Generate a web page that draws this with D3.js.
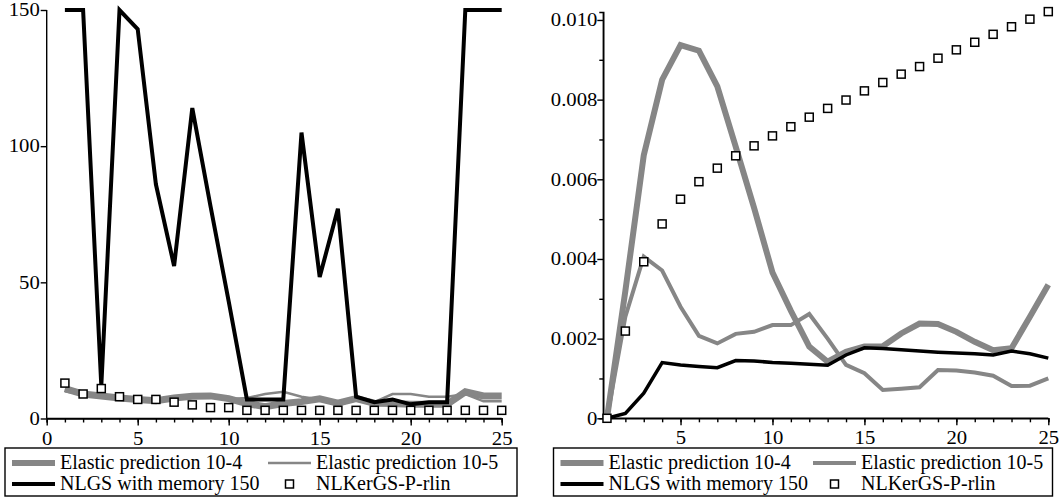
<!DOCTYPE html>
<html>
<head>
<meta charset="utf-8">
<script src="https://cdn.jsdelivr.net/npm/d3@7"></script>
<style>
  body { margin: 0; background: #fff; }
  text { font-family: "Liberation Serif", "Times New Roman", serif; fill: #000; }
  .axis path, .axis line { stroke: #000; stroke-width: 1.4px; }
</style>
</head>
<body>
<script>
// iterations
var iters = d3.range(1, 26);

// left panel values
var leftElastic4 = [11, 9, 8.3, 7.5, 7, 6.5, 7.5, 8.2, 8.3, 7.3, 5.5, 4.3, 5.5, 6.2, 7.2, 5.6, 7.3, 5.6, 5.5, 5.2, 5.2, 5.2, 9.8, 8.3, 8.3];
var leftElastic5 = [10, 8.7, 8, 7.5, 7, 6.5, 7.2, 8, 8, 7.2, 7.5, 9, 9.8, 8, 7, 6, 7, 6, 9, 9, 8, 8, 9, 6.3, 6.3];
var leftNLGS = [150, 150, 12, 150, 143, 86, 56, 114, 78, 43, 7, 7, 7, 105, 52, 77, 8, 6, 7, 5.2, 6, 6, 150, 150, 150];
var leftKer = [13, 9, 11, 8, 7, 7, 6, 5, 4, 4, 3, 3, 3, 3, 3, 3, 3, 3, 3, 3, 3, 3, 3, 3, 3];

// right panel values
var rightElastic4 = [0, 0.0032, 0.0066, 0.0085, 0.00937, 0.00923, 0.00833, 0.00682, 0.00528, 0.00366, 0.0027, 0.0018, 0.00142, 0.00167, 0.0018, 0.00181, 0.00213, 0.00238, 0.00237, 0.00217, 0.00192, 0.00171, 0.00176, 0.00255, 0.00335];
var rightElastic5 = [0, 0.00255, 0.00406, 0.00371, 0.0028, 0.00207, 0.00188, 0.00212, 0.00217, 0.00234, 0.00234, 0.00262, 0.002, 0.00134, 0.00113, 0.00071, 0.00074, 0.00078, 0.00121, 0.0012, 0.00115, 0.00107, 0.00081, 0.00082, 0.001];
var rightNLGS = [0, 0.00012, 0.00063, 0.0014, 0.00134, 0.0013, 0.00127, 0.00145, 0.00144, 0.0014, 0.00138, 0.00136, 0.00133, 0.00159, 0.00177, 0.00175, 0.00172, 0.00169, 0.00166, 0.00164, 0.00162, 0.00159, 0.00169, 0.00162, 0.00151];
var rightKer = [0, 0.00219, 0.00393, 0.00488, 0.0055, 0.00594, 0.00628, 0.00659, 0.00684, 0.00709, 0.00732, 0.00756, 0.00778, 0.00799, 0.00822, 0.00843, 0.00864, 0.00883, 0.00904, 0.00925, 0.00944, 0.00964, 0.00983, 0.01002, 0.01021];

var leftYTicks = [0, 50, 100, 150];
var leftXTicks = [0, 5, 10, 15, 20, 25];
var rightYTicks = [0, 0.002, 0.004, 0.006, 0.008, 0.010];
var rightXTicks = [5, 10, 15, 20, 25];

var legendNames = ['Elastic prediction 10-4', 'Elastic prediction 10-5', 'NLGS with memory 150', 'NLKerGS-P-rlin'];

var gray = '#868686';
var stretch = 1.15; // tick labels look wider than tall in the original

var svg = d3.select('body').append('svg')
  .attr('width', 1060).attr('height', 502);

function panel(opt) {
  var g = svg.append('g');
  var xScale = d3.scaleLinear().domain(opt.xDomain).range(opt.xRange);
  var yScale = d3.scaleLinear().domain(opt.yDomain).range(opt.yRange);

  // minor x ticks
  var xAxisMinor = d3.axisBottom(xScale).tickValues(opt.xMinor).tickSize(4).tickFormat('');
  g.append('g').attr('class', 'axis')
    .attr('transform', 'translate(0,' + opt.yRange[0] + ')')
    .call(xAxisMinor);
  var xAxis = d3.axisBottom(xScale).tickValues(opt.xTicks).tickSize(7).tickSizeOuter(0)
    .tickFormat(d3.format('d'));
  var xg = g.append('g').attr('class', 'axis')
    .attr('transform', 'translate(0,' + opt.yRange[0] + ')')
    .call(xAxis);
  xg.selectAll('text').attr('font-size', '18px').attr('dy', '0.9em')
    .attr('transform', 'scale(' + stretch + ',1)');
  xg.select('.domain').remove();
  g.append('line').attr('x1', opt.xRange[0]).attr('x2', opt.xRange[1])
    .attr('y1', opt.yRange[0]).attr('y2', opt.yRange[0])
    .style('stroke', '#000').style('stroke-width', '1.4px');

  if (opt.yMinor) {
    g.append('g').attr('class', 'axis')
      .attr('transform', 'translate(' + opt.xRange[0] + ',0)')
      .call(d3.axisLeft(yScale).tickValues(opt.yMinor).tickSize(4).tickFormat(''));
  }
  var yg = g.append('g').attr('class', 'axis')
    .attr('transform', 'translate(' + opt.xRange[0] + ',0)')
    .call(d3.axisLeft(yScale).tickValues(opt.yTicks).tickSize(6).tickSizeOuter(0)
      .tickFormat(opt.yFormat));
  yg.selectAll('text').attr('font-size', '18px')
    .attr('x', -opt.yGap / stretch)
    .attr('transform', 'scale(' + stretch + ',1)');
  yg.select('.domain').remove();
  g.append('line').attr('x1', opt.xRange[0]).attr('x2', opt.xRange[0])
    .attr('y1', opt.yRange[0]).attr('y2', opt.yRange[1])
    .style('stroke', '#000').style('stroke-width', '1.4px');

  var line = d3.line().x((d, i) => xScale(iters[i])).y((d) => yScale(d));

  g.append('path').datum(opt.e4).attr('d', line)
    .attr('fill', 'none').attr('stroke', gray).attr('stroke-width', opt.w4);
  g.append('path').datum(opt.e5).attr('d', line)
    .attr('fill', 'none').attr('stroke', gray).attr('stroke-width', opt.w5);
  g.append('path').datum(opt.nlgs).attr('d', line)
    .attr('fill', 'none').attr('stroke', '#000').attr('stroke-width', opt.wb);

  g.selectAll('rect.ker').data(opt.ker).enter()
    .append('rect').attr('class', 'ker')
    .attr('x', (d, i) => xScale(iters[i]) - 4)
    .attr('y', (d) => yScale(d) - 4)
    .attr('width', 8).attr('height', 8)
    .attr('fill', '#fff').attr('stroke', '#000').attr('stroke-width', 1.5);

  // legend
  var L = opt.legend;
  g.append('rect').attr('x', L.x).attr('y', 448).attr('width', L.w).attr('height', 48)
    .attr('fill', '#fff').attr('stroke', '#000').attr('stroke-width', 1.4);
  var rows = [463, 484];
  var col1 = L.x + 7, col2 = L.x + L.col2;
  g.append('line').attr('x1', col1).attr('x2', col1 + 43).attr('y1', rows[0]).attr('y2', rows[0])
    .attr('stroke', gray).attr('stroke-width', opt.lw4);
  g.append('line').attr('x1', col2).attr('x2', col2 + 43).attr('y1', rows[0]).attr('y2', rows[0])
    .attr('stroke', gray).attr('stroke-width', opt.lw5);
  g.append('line').attr('x1', col1).attr('x2', col1 + 43).attr('y1', rows[1]).attr('y2', rows[1])
    .attr('stroke', '#000').attr('stroke-width', 4);
  g.append('rect').attr('x', col2 + 21.5 - 4).attr('y', rows[1] - 4).attr('width', 8).attr('height', 8)
    .attr('fill', '#fff').attr('stroke', '#000').attr('stroke-width', 1.5);
  var pos = [[col1, rows[0]], [col2, rows[0]], [col1, rows[1]], [col2, rows[1]]];
  g.selectAll('text.leg').data(legendNames).enter().append('text').attr('class', 'leg')
    .attr('x', (d, i) => pos[i][0] + 48).attr('y', (d, i) => pos[i][1] + 6)
    .attr('font-size', '20px')
    .text((d) => d);
}

panel({
  xDomain: [0, 25], xRange: [46.7, 501.7],
  yDomain: [0, 150], yRange: [418.5, 10],
  xTicks: leftXTicks, xMinor: d3.range(0, 26),
  yTicks: leftYTicks, yMinor: null, yFormat: d3.format('d'), yGap: 7,
  e4: leftElastic4, e5: leftElastic5, nlgs: leftNLGS, ker: leftKer,
  w4: 7, w5: 2.5, wb: 4, lw4: 6, lw5: 2.5,
  legend: { x: 5, w: 512, col2: 263 }
});

panel({
  xDomain: [0.8, 25], xRange: [603.3, 1048.3],
  yDomain: [0, 0.0102], yRange: [418.3, 12],
  xTicks: rightXTicks, xMinor: d3.range(1, 26),
  yTicks: rightYTicks, yMinor: [0.001, 0.003, 0.005, 0.007, 0.009],
  yFormat: (d) => d === 0 ? '0' : d3.format('.3f')(d), yGap: 6,
  e4: rightElastic4, e5: rightElastic5, nlgs: rightNLGS, ker: rightKer,
  w4: 6, w5: 4, wb: 3.5, lw4: 6, lw5: 4,
  legend: { x: 553.5, w: 499, col2: 259.5 }
});
</script>
</body>
</html>
